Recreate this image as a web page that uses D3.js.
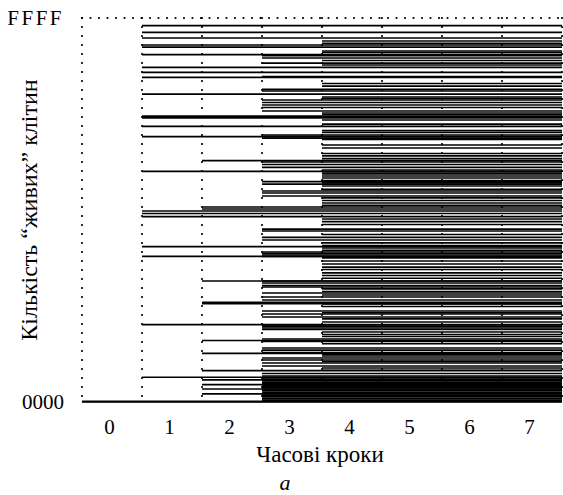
<!DOCTYPE html>
<html>
<head>
<meta charset="utf-8">
<script src="https://cdn.jsdelivr.net/npm/d3@7"></script>
<style>
  body { margin: 0; background: #fff; }
  text { font-family: "Liberation Serif", "Times New Roman", serif; fill: #000; }
</style>
</head>
<body>
<div id="graph"></div>
<script>
// time steps on the x axis
var steps = [0, 1, 2, 3, 4, 5, 6, 7];
var yTickValues = [0x0000, 0xFFFF];

// "alive" cell states, grouped by the time step where they first appear
var bornStep0 = [0, 110];
var bornStep1 = [64220, 63090, 62120, 60930, 60580, 59270, 57120, 56270, 55410, 52560,
  48780, 48500, 47050, 45280, 39370, 32600, 32170, 31620, 26500, 24870, 13190, 4220];
var bornStep2 = [41180, 33280, 32940, 20650, 17020, 16780, 10500, 8310, 5340, 3760,
  2950, 2220, 1370];
var bornStep3 = [59130, 58710, 57850, 55520, 53370, 53080, 51540, 51110, 50690, 50260,
  49660, 45570, 45310, 45050,
  40960, 40530, 40050, 37600, 37200, 36010, 35670, 35160, 29520, 29180, 28110, 27650,
  25600, 25340, 25090, 24830,
  20650, 20310, 19880, 19630, 18600, 17920, 17410, 15530, 15020, 14510, 13140, 12890,
  12630, 12370, 10750, 10330, 9220, 8870, 8450, 7510, 7170, 6660, 6140, 4860,
  4440, 4150, 3910, 3650, 3400, 3170, 2890, 2660, 2400, 2120, 1890, 1610, 1370, 1100,
  860, 590, 330];
var bornStep4 = [61610, 61200, 59900, 59650, 58280, 57510, 54360, 53900,
  52050, 51800, 49320, 49070, 48130, 47440, 46330, 45990, 44800,
  43860, 43350, 42410, 41990, 41540,
  39590, 39250, 38920, 38570, 38230, 37800, 37380, 36860, 36300,
  34820, 34390, 33960, 33540,
  31230, 30800, 30290, 28590, 27140, 26710, 26280, 25860,
  24580, 24060, 23550, 23030, 22610, 22020, 21590, 21120,
  19290, 18860, 18260, 16730, 16300, 15230, 14170, 13650,
  11950, 11520, 11180, 9940, 8110, 7850, 6910, 5800, 5420];
var bornStep5 = [];
var bornStep6 = [];
var bornStep7 = [];
var born = [bornStep0, bornStep1, bornStep2, bornStep3, bornStep4, bornStep5, bornStep6, bornStep7];

var W = 563, H = 495;
var svg = d3.select("#graph")
  .append("svg")
    .attr("width", W)
    .attr("height", H);

// ranges: each step occupies one column, boundaries at half steps
var x = d3.scaleLinear().domain([-0.5, 7.5]).range([82, 562]);
var y = d3.scaleLinear().domain([0, 0xFFFF]).range([402, 18]);

// flatten to segments: from the birth column to the right edge
var segs = [];
born.forEach(function(list, s) {
  list.forEach(function(v) { segs.push({ step: s, value: v }); });
});

svg.append("g")
  .selectAll("line")
  .data(segs)
  .enter().append("line")
    .attr("x1", function(d) { return x(d.step - 0.5); })
    .attr("x2", x(7.5))
    .attr("y1", function(d) { return y(d.value); })
    .attr("y2", function(d) { return y(d.value); })
    .attr("stroke", "#000")
    .attr("stroke-width", 1.7);

// dotted column boundaries
var bounds = d3.range(-0.5, 8, 1);
svg.append("g")
  .selectAll("line")
  .data(bounds)
  .enter().append("line")
    .attr("x1", function(d) { return x(d); })
    .attr("x2", function(d) { return x(d); })
    .attr("y1", y(0xFFFF))
    .attr("y2", y(0) - 4)
    .attr("stroke", "#000")
    .attr("stroke-width", 2.2)
    .attr("stroke-linecap", "round")
    .attr("stroke-dasharray", "0,9");

// dotted top line at FFFF
svg.append("line")
  .attr("x1", x(-0.5)).attr("x2", x(7.5))
  .attr("y1", y(0xFFFF)).attr("y2", y(0xFFFF))
  .attr("stroke", "#000")
  .attr("stroke-width", 2.2)
  .attr("stroke-linecap", "round")
  .attr("stroke-dasharray", "0,8.5");

// X axis labels
var xAxis = svg.append("g")
  .attr("transform", "translate(-3," + y(0) + ")")
  .call(d3.axisBottom(x).tickValues(steps).tickSize(0).tickPadding(17));
xAxis.select(".domain").remove();
xAxis.selectAll("text").style("font-size", "21px").style("font-family", "Liberation Serif");

// Y axis labels (hex)
var yAxis = svg.append("g")
  .attr("transform", "translate(" + x(-0.5) + ",0)")
  .call(d3.axisLeft(y).tickValues(yTickValues).tickSize(0).tickPadding(18)
    .tickFormat(function(d) { return d3.format("04X")(d); }));
yAxis.select(".domain").remove();
yAxis.selectAll("text")
  .style("font-size", "21px")
  .style("font-family", "Liberation Serif")
  .style("letter-spacing", function(d) { return d === 0xFFFF ? "2.5px" : "0px"; });

// axis titles
svg.append("text")
  .attr("x", 320).attr("y", 462)
  .attr("text-anchor", "middle")
  .style("font-size", "23px")
  .text("Часові кроки");

svg.append("text")
  .attr("transform", "translate(37,210) rotate(-90)")
  .attr("text-anchor", "middle")
  .style("font-size", "24px")
  .text("Кількість “живих” клітин");

svg.append("text")
  .attr("x", 285).attr("y", 490)
  .attr("text-anchor", "middle")
  .style("font-size", "22px")
  .style("font-style", "italic")
  .text("a");
</script>
</body>
</html>
